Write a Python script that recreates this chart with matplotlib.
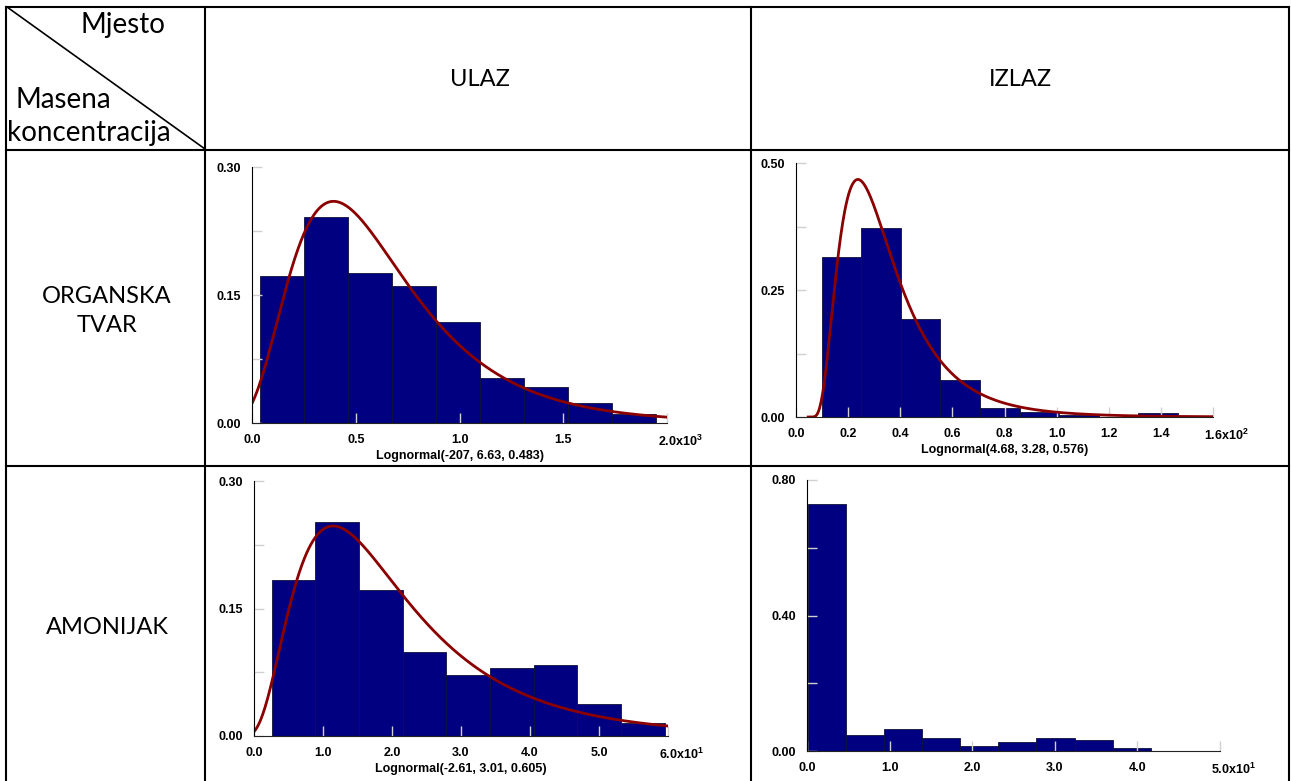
import numpy as np
import matplotlib
matplotlib.use('Agg')
import matplotlib.pyplot as plt
from matplotlib.lines import Line2D

plt.rcParams['mathtext.fontset'] = 'custom'
plt.rcParams['mathtext.rm'] = 'Liberation Sans:bold'
plt.rcParams['mathtext.default'] = 'rm'

W, H = 1291, 781

# histogram data (relative frequencies)
org_ulaz_edges = [40, 252, 464, 676, 888, 1100, 1312, 1524, 1736, 1948]
org_ulaz_heights = [0.172, 0.241, 0.176, 0.161, 0.118, 0.053, 0.042, 0.023, 0.011]
org_ulaz_fit = (-207, 6.63, 0.483)

org_izlaz_edges = [9.8, 25.0, 40.2, 55.4, 70.6, 85.8, 101.0, 116.2, 131.4, 146.6]
org_izlaz_heights = [0.315, 0.373, 0.192, 0.072, 0.018, 0.010, 0.004, 0.0, 0.007]
org_izlaz_fit = (4.68, 3.28, 0.576)

amo_ulaz_edges = [2.56, 8.89, 15.22, 21.55, 27.88, 34.21, 40.54, 46.87, 53.2, 59.53]
amo_ulaz_heights = [0.183, 0.252, 0.172, 0.099, 0.072, 0.080, 0.084, 0.038, 0.015]
amo_ulaz_fit = (-2.61, 3.01, 0.605)

amo_izlaz_edges = [0.12, 4.73, 9.34, 13.95, 18.56, 23.17, 27.78, 32.39, 37.0, 41.61]
amo_izlaz_heights = [0.729, 0.047, 0.065, 0.039, 0.016, 0.028, 0.039, 0.031, 0.010]

fig = plt.figure(figsize=(W / 100, H / 100), dpi=100)
fig.patch.set_facecolor('white')


def px_line(x1, y1, x2, y2, lw=1.5):
    fig.add_artist(Line2D([x1 / W, x2 / W], [1 - y1 / H, 1 - y2 / H],
                          transform=fig.transFigure, color='black', lw=lw))


def px_text(x, y, s, ha='center', size=17, **kw):
    fig.text(x / W, 1 - y / H, s, ha=ha, va='center', family='Lato',
             fontsize=size, **kw)


def lognormal(x, shift, mu, sigma, width):
    z = x - shift
    y = np.zeros_like(x)
    m = z > 0
    y[m] = np.exp(-(np.log(z[m]) - mu) ** 2 / (2 * sigma ** 2)) / (z[m] * sigma * np.sqrt(2 * np.pi))
    return y * width


def panel(l, t, r, b, edges, heights, xmax, xticks, xlabels, last_label,
          ymax, ymajor, ylabels, yminor, fit=None):
    ax = fig.add_axes([l / W, 1 - b / H, (r - l) / W, (b - t) / H])
    edges = np.array(edges)
    ax.bar(edges[:-1], heights, width=np.diff(edges), align='edge',
           color='#000080', edgecolor='#10103a', linewidth=0.6)
    if fit is not None:
        shift, mu, sigma = fit
        xs = np.linspace(max(0, shift + 1e-6), xmax, 600)
        ax.plot(xs, lognormal(xs, shift, mu, sigma, np.mean(np.diff(edges))),
                color='#8b0000', lw=2.0)
        ax.set_xlabel('Lognormal(%s, %s, %s)' % fit, fontsize=9, fontweight='bold',
                      family='Liberation Sans', labelpad=3)
    ax.set_xlim(0, xmax)
    ax.set_ylim(0, ymax)
    for s in ['top', 'right']:
        ax.spines[s].set_visible(False)
    ax.spines['left'].set_color('black')
    ax.spines['bottom'].set_color('#222222')
    ax.set_xticks(xticks + [xmax], xlabels + [''], fontsize=9, fontweight='bold',
                  family='Liberation Sans')
    ax.set_yticks(ymajor, ylabels, fontsize=9, fontweight='bold', family='Liberation Sans')
    ax.set_yticks(yminor, minor=True)
    ax.tick_params(axis='both', which='both', direction='in', color='#d0d0d0',
                   length=7, width=1, pad=8)
    ax.annotate(last_label, xy=(xmax, 0), xycoords=('data', 'axes fraction'),
                xytext=(-6.5, -8), textcoords='offset points', ha='left', va='top',
                fontsize=9, fontweight='bold', family='Liberation Sans',
                annotation_clip=False)
    return ax


panel(252, 167, 667, 423, org_ulaz_edges, org_ulaz_heights, 2000,
      [0, 500, 1000, 1500], ['0.0', '0.5', '1.0', '1.5'], '2.0x10$^3$',
      0.30, [0, 0.15, 0.30], ['0.00', '0.15', '0.30'], [0.075, 0.225], org_ulaz_fit)

panel(796, 163, 1213, 417, org_izlaz_edges, org_izlaz_heights, 160,
      [0, 20, 40, 60, 80, 100, 120, 140],
      ['0.0', '0.2', '0.4', '0.6', '0.8', '1.0', '1.2', '1.4'], '1.6x10$^2$',
      0.50, [0, 0.25, 0.50], ['0.00', '0.25', '0.50'], [0.125, 0.375], org_izlaz_fit)

panel(254, 481, 668, 736, amo_ulaz_edges, amo_ulaz_heights, 60,
      [0, 10, 20, 30, 40, 50], ['0.0', '1.0', '2.0', '3.0', '4.0', '5.0'], '6.0x10$^1$',
      0.30, [0, 0.15, 0.30], ['0.00', '0.15', '0.30'], [0.075, 0.225], amo_ulaz_fit)

panel(807, 480, 1220, 751, amo_izlaz_edges, amo_izlaz_heights, 50,
      [0, 10, 20, 30, 40], ['0.0', '1.0', '2.0', '3.0', '4.0'], '5.0x10$^1$',
      0.80, [0, 0.40, 0.80], ['0.00', '0.40', '0.80'], [0.2, 0.6])

# table grid
px_line(6, 7, 1289, 7)
px_line(6, 7, 6, 781)
px_line(1289, 7, 1289, 781)
px_line(205, 7, 205, 781)
px_line(751, 7, 751, 781)
px_line(6, 150, 1289, 150)
px_line(6, 466, 1289, 466)
px_line(7, 7, 205, 149, lw=1.2)

px_text(123, 25, 'Mjesto', size=20)
px_text(16, 100, 'Masena', ha='left', size=20)
px_text(7, 133, 'koncentracija', ha='left', size=20)
px_text(480, 80, 'ULAZ')
px_text(1020, 80, 'IZLAZ')
px_text(107, 311, 'ORGANSKA\nTVAR', linespacing=1.45)
px_text(107, 628, 'AMONIJAK')

fig.savefig('out.png', dpi=100, facecolor='white')
